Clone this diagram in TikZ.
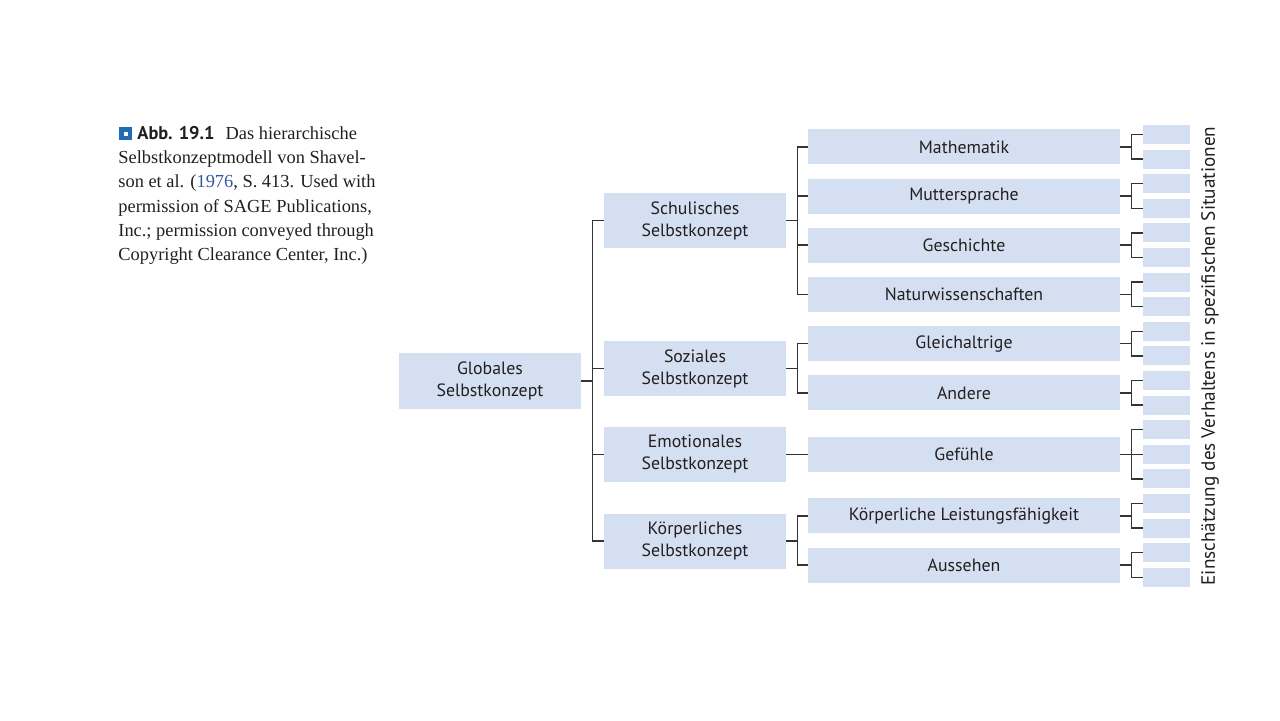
\documentclass[tikz,border=0pt]{standalone}
\usepackage{fontspec}
\setmainfont{Liberation Serif}
\newfontfamily\boxfont{PT Sans}
\definecolor{boxblue}{HTML}{D4E0F2}
\definecolor{linegray}{HTML}{333333}
\definecolor{txtdark}{HTML}{231F20}
\definecolor{iconblue}{HTML}{1F6DB3}
\definecolor{citeblue}{HTML}{3457A6}
\tikzset{
  panel/.style={fill=boxblue, inner sep=0pt, text=txtdark, align=center,
    font=\boxfont\fontsize{8.9}{11}\selectfont},
  topbox/.style={panel, minimum width=91pt, minimum height=28pt},
  areabox/.style={panel, minimum width=91pt, minimum height=27.5pt},
  subjbox/.style={panel, minimum width=156pt, minimum height=17.5pt},
  sitbox/.style={panel, minimum width=23.5pt, minimum height=9.5pt},
  link/.style={draw=linegray, line width=0.75pt}
}
\begin{document}
\begin{tikzpicture}[x=0.5pt, y=-0.5pt]
\useasboundingbox (0,0) rectangle (1280,720);

\fill[iconblue] (119,127) rectangle (132,140);
\fill[white] (123.5,131.5) rectangle (127.5,135.5);
\node[anchor=north west, inner sep=0pt, align=left, text=txtdark,
  font=\fontsize{9.2}{12.1}\selectfont] (caption) at (118,126)
  {\hspace*{9.5pt}{\boxfont\bfseries Abb. 19.1}\hspace{5.5pt}Das hierarchische\\
   Selbstkonzeptmodell von Shavel-\\
   son et al. ({\color{citeblue}1976}, S. 413. Used with\\
   permission of SAGE Publications,\\
   Inc.; permission conveyed through\\
   Copyright Clearance Center, Inc.)};

\node[topbox] (glob) at (490,381) {Globales\\Selbstkonzept};

\node[areabox] (schul) at (695,220.5) {Schulisches\\Selbstkonzept};
\node[areabox] (soz) at (695,368.5) {Soziales\\Selbstkonzept};
\node[areabox] (emo) at (695,454.3) {Emotionales\\Selbstkonzept};
\node[areabox] (koerp) at (695,541) {Körperliches\\Selbstkonzept};

\node[subjbox] (math) at (964,146.8) {Mathematik};
\node[subjbox] (mutter) at (964,196) {Muttersprache};
\node[subjbox] (gesch) at (964,245.2) {Geschichte};
\node[subjbox] (natur) at (964,294.4) {Naturwissenschaften};
\node[subjbox] (gleich) at (964,343.6) {Gleichaltrige};
\node[subjbox] (andere) at (964,392.8) {Andere};
\node[subjbox] (gef) at (964,454.3) {Gefühle};
\node[subjbox] (leist) at (964,515.8) {Körperliche Leistungsfähigkeit};
\node[subjbox] (auss) at (964,565) {Aussehen};

\foreach \i in {1,...,19}
  \node[sitbox] (s\i) at (1166.5,{134.5+24.6*(\i-1)}) {};

\node[rotate=90, inner sep=0pt, text=txtdark,
  font=\boxfont\fontsize{9.6}{11}\selectfont] (sit) at (1210,356)
  {Einschätzung des Verhaltens in spezifischen Situationen};

\draw[link] (glob.east) -- ++(11,0) coordinate (bglob);
\foreach \n in {schul,soz,emo,koerp}
  \draw[link] (\n.west) -| (bglob);

\draw[link] (schul.east) -- ++(11,0) coordinate (bschul);
\foreach \n in {math,mutter,gesch,natur}
  \draw[link] (\n.west) -| (bschul);
\draw[link] (soz.east) -- ++(11,0) coordinate (bsoz);
\foreach \n in {gleich,andere}
  \draw[link] (\n.west) -| (bsoz);
\draw[link] (emo.east) -- (gef.west);
\draw[link] (koerp.east) -- ++(11,0) coordinate (bkoerp);
\foreach \n in {leist,auss}
  \draw[link] (\n.west) -| (bkoerp);

\foreach \n/\a/\b in {math/1/2, mutter/3/4, gesch/5/6, natur/7/8,
    gleich/9/10, andere/11/12, leist/16/17, auss/18/19} {
  \draw[link] (\n.east) -- ++(11,0) coordinate (b\n);
  \draw[link] (s\a.west) -| (b\n);
  \draw[link] (s\b.west) -| (b\n);
}
\draw[link] (gef.east) -- ++(11,0) coordinate (bgef);
\foreach \i in {13,14,15}
  \draw[link] (s\i.west) -| (bgef);
\end{tikzpicture}
\end{document}
